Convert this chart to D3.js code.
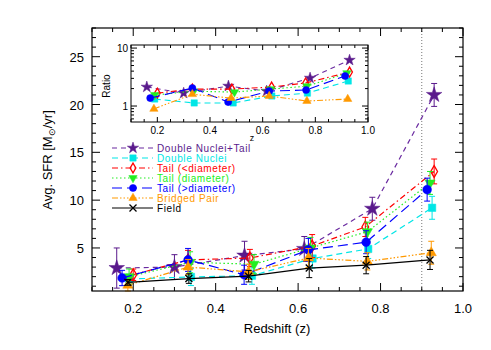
<!DOCTYPE html>
<html>
<head>
<meta charset="utf-8">
<script src="https://cdn.jsdelivr.net/npm/d3@7"></script>
<style>
body { margin: 0; background: #fff; }
text { font-family: "Liberation Sans", Arial, sans-serif; }
</style>
</head>
<body>
<div id="chart"></div>
<script>
// series values
var names = ["Double Nuclei+Tail", "Double Nuclei", "Tail (<diameter)", "Tail (diameter)", "Tail (>diameter)", "Bridged Pair", "Field"];

var zStar = [0.16, 0.30, 0.47, 0.615, 0.78, 0.93];
var sfrStar = [2.9, 3.0, 4.2, 4.9, 9.1, 21.0];
var errStar = [2.1, 1.3, 1.5, 1.3, 1.2, 1.2];
var ratioStar = [2.13, 1.67, 2.21, 1.81, 3.04, 6.2];

var zCyan = [0.19, 0.34, 0.488, 0.635, 0.77, 0.925];
var sfrCyan = [1.75, 1.97, 2.1, 3.9, 4.9, 9.2];
var errCyan = [0.5, 0.9, 0.9, 1.0, 1.0, 1.2];
var ratioCyan = [1.32, 1.13, 1.13, 1.49, 1.67, 2.7];

var zRed = [0.2, 0.333, 0.483, 0.634, 0.763, 0.93];
var sfrRed = [2.2, 3.75, 3.95, 5.2, 7.2, 13.0];
var errRed = [0.6, 1.0, 0.9, 1.2, 1.0, 1.3];
var ratioRed = [1.67, 1.96, 1.96, 2.13, 2.5, 3.85];

var zGreen = [0.19, 0.338, 0.493, 0.63, 0.768, 0.92];
var sfrGreen = [2.0, 3.5, 3.3, 5.0, 6.7, 11.8];
var errGreen = [0.8, 1.1, 1.0, 1.1, 1.0, 1.2];
var ratioGreen = [1.55, 1.8, 1.74, 1.96, 2.2, 3.7];

var zBlue = [0.173, 0.333, 0.469, 0.625, 0.765, 0.913];
var sfrBlue = [1.86, 3.75, 2.2, 4.8, 5.6, 11.1];
var errBlue = [0.8, 1.2, 1.0, 1.2, 1.2, 1.2];
var ratioBlue = [1.37, 2.04, 1.17, 1.81, 1.89, 3.3];

var zOrange = [0.187, 0.333, 0.48, 0.625, 0.768, 0.923];
var sfrOrange = [1.1, 3.0, 2.5, 3.95, 3.6, 4.5];
var errOrange = [0.6, 0.8, 0.8, 1.0, 0.9, 1.2];
var ratioOrange = [0.89, 1.6, 1.37, 1.49, 1.22, 1.32];

var zField = [0.187, 0.335, 0.48, 0.627, 0.765, 0.92];
var sfrField = [1.4, 1.8, 2.05, 2.9, 3.2, 3.75];
var errField = [0.3, 0.5, 0.6, 1.0, 0.9, 1.0];

var xTicks = [0.2, 0.4, 0.6, 0.8, 1.0];
var yTicks = [5, 10, 15, 20, 25];
var ratioTicks = [1, 10];
var zCut = 0.9;

var w = 491, h = 350;
var svg = d3.select("#chart").append("svg")
	.attr("width", w)
	.attr("height", h)

var x = d3.scaleLinear().domain([0.1, 1.0]).range([92, 463]);
var y = d3.scaleLinear().domain([0.5, 28]).range([291, 28]);

var xi = d3.scaleLinear().domain([0.1, 1.0]).range([131, 368]);
var yi = d3.scaleLog().domain([0.53, 11.3]).range([122, 45]);

function xMark(s) {
	return "M" + (-s) + "," + (-s) + "L" + s + "," + s + "M" + (-s) + "," + s + "L" + s + "," + (-s);
}

var series = [
	{name: names[0], z: zStar, sfr: sfrStar, err: errStar, ratio: ratioStar, color: "#5a1a8c", line: "#6a2aa0", dash: "5,4", sym: d3.symbolStar, size: 75, isize: 40, fill: true},
	{name: names[1], z: zCyan, sfr: sfrCyan, err: errCyan, ratio: ratioCyan, color: "#00e6e6", line: "#00e6e6", dash: "6,4", sym: d3.symbolSquare, size: 55, isize: 40, fill: true},
	{name: names[2], z: zRed, sfr: sfrRed, err: errRed, ratio: ratioRed, color: "#ff0000", line: "#ff0000", dash: "6,3,1.5,3", sym: d3.symbolDiamond, size: 40, isize: 28, fill: false},
	{name: names[3], z: zGreen, sfr: sfrGreen, err: errGreen, ratio: ratioGreen, color: "#22ee22", line: "#22ee22", dash: "1.5,2.5", sym: d3.symbolTriangle, size: 45, isize: 30, fill: true, rot: 180},
	{name: names[4], z: zBlue, sfr: sfrBlue, err: errBlue, ratio: ratioBlue, color: "#0000ff", line: "#0000ff", dash: "10,5", sym: d3.symbolCircle, size: 60, isize: 40, fill: true},
	{name: names[5], z: zOrange, sfr: sfrOrange, err: errOrange, ratio: ratioOrange, color: "#ff9900", line: "#ff9900", dash: "6,2,1.5,2,1.5,2,1.5,2", sym: d3.symbolTriangle, size: 45, isize: 30, fill: true},
	{name: names[6], z: zField, sfr: sfrField, err: errField, ratio: null, color: "#000000", line: "#000000", dash: null, sym: null, size: 0, isize: 0, fill: false}
];

function drawMark(g, s, cx, cy, size) {
	if (s.sym == null) {
		g.append("path")
			.attr("d", xMark(3.5))
			.attr("transform", "translate(" + cx + "," + cy + ")")
			.style("stroke", s.color)
			.style("stroke-width", 1.3)
			.style("fill", "none")
		return;
	}
	g.append("path")
		.attr("d", d3.symbol().type(s.sym).size(size)())
		.attr("transform", "translate(" + cx + "," + cy + ")" + (s.rot ? " rotate(" + s.rot + ")" : ""))
		.style("fill", s.fill ? s.color : "none")
		.style("stroke", s.color)
		.style("stroke-width", s.fill ? 0.5 : 1.3)
}

// dotted line at z = 0.9
svg.append("line")
	.attr("x1", x(zCut)).attr("x2", x(zCut))
	.attr("y1", y(28)).attr("y2", y(0.5))
	.style("stroke", "#777")
	.style("stroke-width", 1)
	.style("stroke-dasharray", "1,2")

// main series
series.forEach(function(s) {
	var pts = s.z.map(function(z, i) { return [x(z), y(s.sfr[i])]; });
	svg.append("path")
		.attr("d", d3.line()(pts))
		.style("fill", "none")
		.style("stroke", s.line)
		.style("stroke-width", 1.2)
		.style("stroke-dasharray", s.dash)
	var g = svg.append("g");
	s.z.forEach(function(z, i) {
		var cx = x(z), y0 = y(s.sfr[i] - s.err[i]), y1 = y(s.sfr[i] + s.err[i]);
		g.append("path")
			.attr("d", "M" + cx + "," + y0 + "V" + y1 + "M" + (cx - 3) + "," + y0 + "H" + (cx + 3) + "M" + (cx - 3) + "," + y1 + "H" + (cx + 3))
			.style("stroke", s.color)
			.style("stroke-width", 1)
			.style("fill", "none")
	});
	s.z.forEach(function(z, i) {
		drawMark(g, s, x(z), y(s.sfr[i]), s.size);
	});
});

// main axes with IDL style ticks on all sides
var frame = svg.append("g");
frame.append("rect")
	.attr("x", 92).attr("y", 28).attr("width", 463 - 92).attr("height", 291 - 28)
	.style("fill", "none").style("stroke", "#000").style("stroke-width", 1.2)

var xMinor = d3.range(0.1, 1.0001, 0.05);
var yMinor = d3.range(1, 28.001, 1);
xMinor.forEach(function(t) {
	var major = xTicks.some(function(m) { return Math.abs(m - t) < 1e-6; });
	var len = major ? 8 : 4;
	frame.append("line").attr("x1", x(t)).attr("x2", x(t)).attr("y1", 291).attr("y2", 291 - len).style("stroke", "#000")
	frame.append("line").attr("x1", x(t)).attr("x2", x(t)).attr("y1", 28).attr("y2", 28 + len).style("stroke", "#000")
});
yMinor.forEach(function(t) {
	var len = (t % 5 == 0) ? 8 : 4;
	frame.append("line").attr("x1", 92).attr("x2", 92 + len).attr("y1", y(t)).attr("y2", y(t)).style("stroke", "#000")
	frame.append("line").attr("x1", 463).attr("x2", 463 - len).attr("y1", y(t)).attr("y2", y(t)).style("stroke", "#000")
});

svg.selectAll(".xlab")
	.data(xTicks)
	.enter()
	.append("text")
	.attr("x", function(d) { return x(d); })
	.attr("y", 313)
	.style("text-anchor", "middle")
	.style("font-size", "13px")
	.text(function(d) { return d3.format(".1f")(d); })

svg.selectAll(".ylab")
	.data(yTicks)
	.enter()
	.append("text")
	.attr("x", 84)
	.attr("y", function(d) { return y(d) + 5; })
	.style("text-anchor", "end")
	.style("font-size", "13px")
	.text(function(d) { return d; })

svg.append("text")
	.attr("x", 277).attr("y", 333)
	.style("text-anchor", "middle")
	.style("font-size", "13px")
	.text("Redshift (z)")

var yt = svg.append("text")
	.attr("transform", "translate(52,160) rotate(-90)")
	.style("text-anchor", "middle")
	.style("font-size", "13px")
yt.append("tspan").text("Avg. SFR [M")
yt.append("tspan").text("⊙").style("font-size", "9px").attr("dy", 3)
yt.append("tspan").text("/yr]").attr("dy", -3)

// inset
svg.append("rect")
	.attr("x", 131).attr("y", 45).attr("width", 368 - 131).attr("height", 122 - 45)
	.style("fill", "#fff").style("stroke", "#000").style("stroke-width", 1)

series.forEach(function(s) {
	if (s.ratio == null) return;
	var pts = s.z.map(function(z, i) { return [xi(z), yi(s.ratio[i])]; });
	svg.append("path")
		.attr("d", d3.line()(pts))
		.style("fill", "none")
		.style("stroke", s.line)
		.style("stroke-width", 1.1)
		.style("stroke-dasharray", s.dash)
	var g = svg.append("g");
	s.z.forEach(function(z, i) {
		drawMark(g, s, xi(z), yi(s.ratio[i]), s.isize);
	});
});

d3.range(0.1, 1.0001, 0.05).forEach(function(t) {
	var major = xTicks.some(function(m) { return Math.abs(m - t) < 1e-6; });
	var len = major ? 5 : 3;
	svg.append("line").attr("x1", xi(t)).attr("x2", xi(t)).attr("y1", 122).attr("y2", 122 - len).style("stroke", "#000")
	svg.append("line").attr("x1", xi(t)).attr("x2", xi(t)).attr("y1", 45).attr("y2", 45 + len).style("stroke", "#000")
});
var logTicks = [0.6, 0.7, 0.8, 0.9, 1, 2, 3, 4, 5, 6, 7, 8, 9, 10];
logTicks.forEach(function(t) {
	var len = (t == 1 || t == 10) ? 6 : 3;
	svg.append("line").attr("x1", 131).attr("x2", 131 + len).attr("y1", yi(t)).attr("y2", yi(t)).style("stroke", "#000")
	svg.append("line").attr("x1", 368).attr("x2", 368 - len).attr("y1", yi(t)).attr("y2", yi(t)).style("stroke", "#000")
});

svg.selectAll(".xilab")
	.data(xTicks)
	.enter()
	.append("text")
	.attr("x", function(d) { return xi(d); })
	.attr("y", 134)
	.style("text-anchor", "middle")
	.style("font-size", "10px")
	.text(function(d) { return d3.format(".1f")(d); })

svg.selectAll(".yilab")
	.data(ratioTicks)
	.enter()
	.append("text")
	.attr("x", 128)
	.attr("y", function(d) { return yi(d) + 4; })
	.style("text-anchor", "end")
	.style("font-size", "10px")
	.text(function(d) { return d; })

svg.append("text")
	.attr("transform", "translate(110,86) rotate(-90)")
	.style("text-anchor", "middle")
	.style("font-size", "10px")
	.text("Ratio")

svg.append("text")
	.attr("x", 252).attr("y", 141)
	.style("text-anchor", "middle")
	.style("font-size", "9px")
	.text("z")

// legend
var leg = svg.append("g");
series.forEach(function(s, i) {
	var ly = 148 + i * 10;
	leg.append("line")
		.attr("x1", 112).attr("x2", 153)
		.attr("y1", ly).attr("y2", ly)
		.style("stroke", s.line)
		.style("stroke-width", 1.2)
		.style("stroke-dasharray", s.dash)
	drawMark(leg, s, 133, ly, s.isize);
	leg.append("text")
		.attr("x", 157).attr("y", ly + 3.5)
		.style("font-size", "10px")
		.style("letter-spacing", "0.6px")
		.style("fill", s.color)
		.text(s.name)
});
</script>
</body>
</html>
